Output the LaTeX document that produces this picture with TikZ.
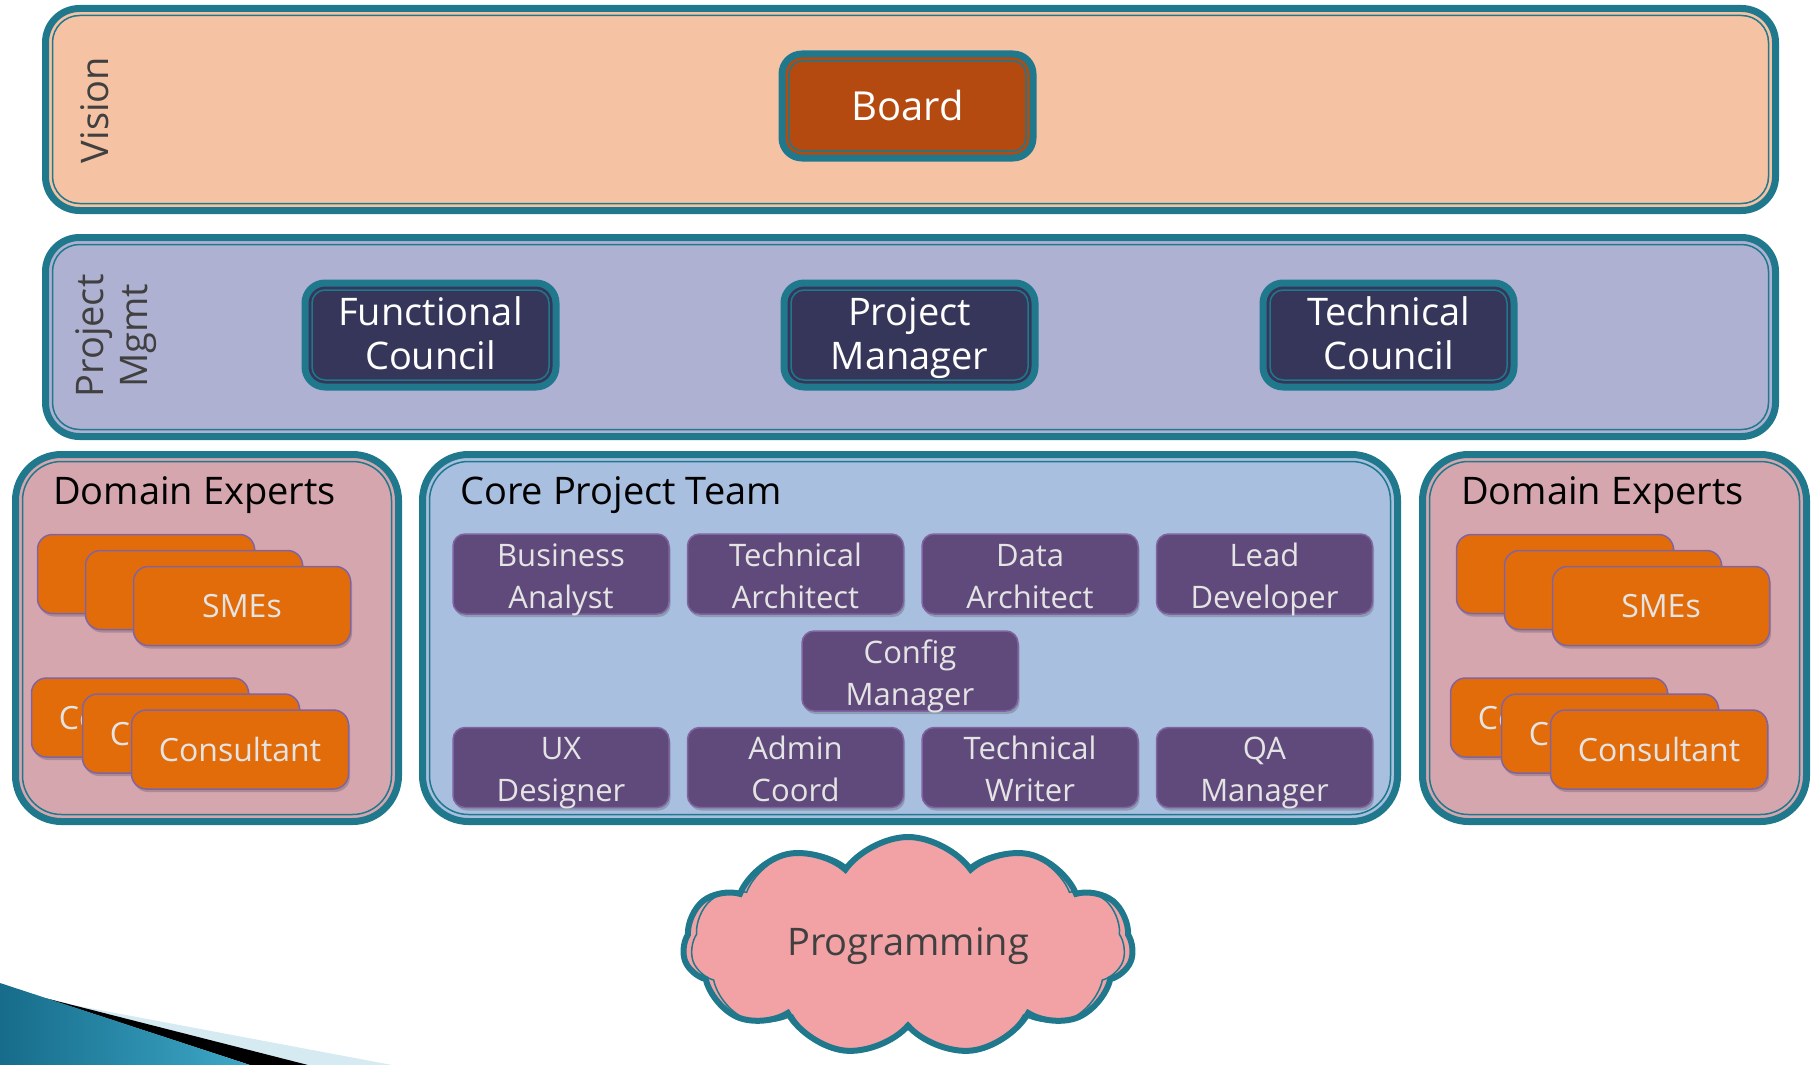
\documentclass[tikz,border=0pt]{standalone}
\usepackage{fontspec}
\setmainfont{Open Sans}
\usetikzlibrary{shapes,positioning,shadows}
\definecolor{frameteal}{RGB}{31,120,140}
\definecolor{visionfill}{RGB}{246,194,164}
\definecolor{boardfill}{RGB}{181,74,16}
\definecolor{mgmtfill}{RGB}{175,177,210}
\definecolor{councilfill}{RGB}{53,54,89}
\definecolor{expertfill}{RGB}{214,166,175}
\definecolor{corefill}{RGB}{169,191,224}
\definecolor{rolefill}{RGB}{96,74,123}
\definecolor{roleline}{RGB}{128,100,162}
\definecolor{smefill}{RGB}{227,108,10}
\definecolor{cloudfill}{RGB}{242,162,165}
\definecolor{labelgray}{RGB}{64,64,64}
\definecolor{paletext}{RGB}{228,228,228}
\definecolor{swooshdark}{RGB}{22,108,138}
\definecolor{swooshlight}{RGB}{62,168,200}
\definecolor{swooshpale}{RGB}{214,234,242}
\newcommand\fs[2]{\fontsize{#1}{#2}\selectfont}
\tikzset{
  band/.style={draw=frameteal, line width=7pt, outer sep=0pt, inner sep=0pt, rounded corners=34pt},
  group/.style={band, rounded corners=46pt, minimum height=367pt},
  lead/.style={draw=frameteal, line width=7pt, outer sep=0pt, inner sep=0pt, rounded corners=20pt,
    minimum width=251pt, minimum height=104pt, text=white, align=center, font=\fs{38}{44},
    text height=68pt, text depth=0pt},
  boxshadow/.style={drop shadow={shadow xshift=1.5pt, shadow yshift=-3pt, opacity=0.3, fill=black!70}},
  role/.style={draw=roleline, line width=1.5pt, fill=rolefill, rounded corners=12pt, inner sep=0pt,
    minimum width=216pt, minimum height=80pt, text=paletext, align=center, font=\fs{31}{42},
    text height=68pt, text depth=0pt, boxshadow},
  expert/.style={draw=roleline, line width=1.5pt, fill=smefill, rounded corners=15pt, inner sep=0pt,
    minimum width=217pt, minimum height=79pt, text=paletext, font=\fs{32}{40}, boxshadow},
  title/.style={inner sep=0pt, font=\fs{38}{44}, anchor=base west},
  sidelabel/.style={font=\fs{38}{44}, text=labelgray, rotate=90, align=center},
  puffs/.style={cloud, draw=frameteal, cloud puffs=11, cloud puff arc=110, aspect=2}
}

\begin{document}
\begin{tikzpicture}[x=1pt, y=-1pt]
  \useasboundingbox (0,0) rectangle (1815,1065);

  % corner swoosh
  \fill[swooshpale] (57,1002) -- (392,1065) -- (300,1065) -- cycle;
  \fill[black] (45,998) -- (308,1065) -- (250,1065) -- cycle;
  \shade[left color=swooshdark, right color=swooshlight] (0,983) -- (250,1065) -- (0,1065) -- cycle;

  % bands
  \node[band, fill=visionfill, minimum width=1730pt, minimum height=202pt] (vision) at (910.5,109.5) {};
  \node[band, fill=mgmtfill, minimum width=1730pt, minimum height=199pt] (mgmt) at (910.5,337) {};
  \node[group, fill=expertfill, minimum width=383pt] (dexl) at (207,638) {};
  \node[group, fill=corefill, minimum width=975pt] (core) at (910,638) {};
  \node[group, fill=expertfill, minimum width=384pt] (dexr) at (1614.5,638) {};

  \node[sidelabel] (visionlbl) at (95,110) {Vision};
  \node[sidelabel] (mgmtlbl) at (116,336) {Project\\Mgmt};

  \node[lead, fill=boardfill, font=\fs{40}{44}, text height=29pt, text depth=0pt] (board) at (907.5,106) {Board};
  \node[lead, fill=councilfill] (func) at (430.5,335) {Functional\\Council};
  \node[lead, fill=councilfill, right=228pt of func] (pm) {Project\\Manager};
  \node[lead, fill=councilfill, right=228pt of pm] (tech) {Technical\\Council};

  % inner frame lines
  \foreach \b/\rad in {vision/27,mgmt/27,dexl/39,core/39,dexr/39,board/13,func/13,pm/13,tech/13}
    \draw[frameteal, line width=1.5pt, rounded corners=\rad pt]
      ([shift={(7,7)}]\b.north west) rectangle ([shift={(-7,-7)}]\b.south east);

  \node[title] (dexltitle) at (53,504) {Domain Experts};
  \node[title] (coretitle) at (460,504) {Core Project Team};
  \node[title] (dexrtitle) at (1461,504) {Domain Experts};

  % core team
  \node[role] (ba) at (561,574) {Business\\Analyst};
  \node[role, right=17pt of ba] (ta) {Technical\\Architect};
  \node[role, right=17pt of ta] (da) {Data\\Architect};
  \node[role, right=17pt of da] (ld) {Lead\\Developer};
  \node[role] (cm) at (910,671) {Config\\Manager};
  \node[role, below=112pt of ba] (ux) {UX\\Designer};
  \node[role, right=17pt of ux] (ac) {Admin\\Coord};
  \node[role, right=17pt of ac] (tw) {Technical\\Writer};
  \node[role, right=17pt of tw] (qa) {QA\\Manager};

  % domain experts, left
  \node[expert] (smel1) at (146,574) {};
  \node[expert, below right=16pt and 48pt of smel1.north west] (smel2) {};
  \node[expert, below right=16pt and 48pt of smel2.north west] (smel3) {SMEs};
  \node[expert] (conl1) at (140,717.5) {Consultant};
  \node[expert, below right=16pt and 51pt of conl1.north west] (conl2) {Consultant};
  \node[expert, below right=16pt and 49pt of conl2.north west] (conl3) {Consultant};

  % domain experts, right
  \node[expert] (smer1) at (1565,574) {};
  \node[expert, below right=16pt and 48pt of smer1.north west] (smer2) {};
  \node[expert, below right=16pt and 48pt of smer2.north west] (smer3) {SMEs};
  \node[expert] (conr1) at (1559,717.5) {Consultant};
  \node[expert, below right=16pt and 51pt of conr1.north west] (conr2) {Consultant};
  \node[expert, below right=16pt and 49pt of conr2.north west] (conr3) {Consultant};

  % programming cloud
  \node[puffs, line width=6pt, fill=cloudfill, minimum width=450pt, minimum height=218pt] (prog) at (908,946) {};
  \node[puffs, line width=1.5pt, minimum width=434pt, minimum height=202pt,
    font=\fs{38}{44}, text=labelgray] (progline) at (908,946) {Programming};
\end{tikzpicture}
\end{document}
